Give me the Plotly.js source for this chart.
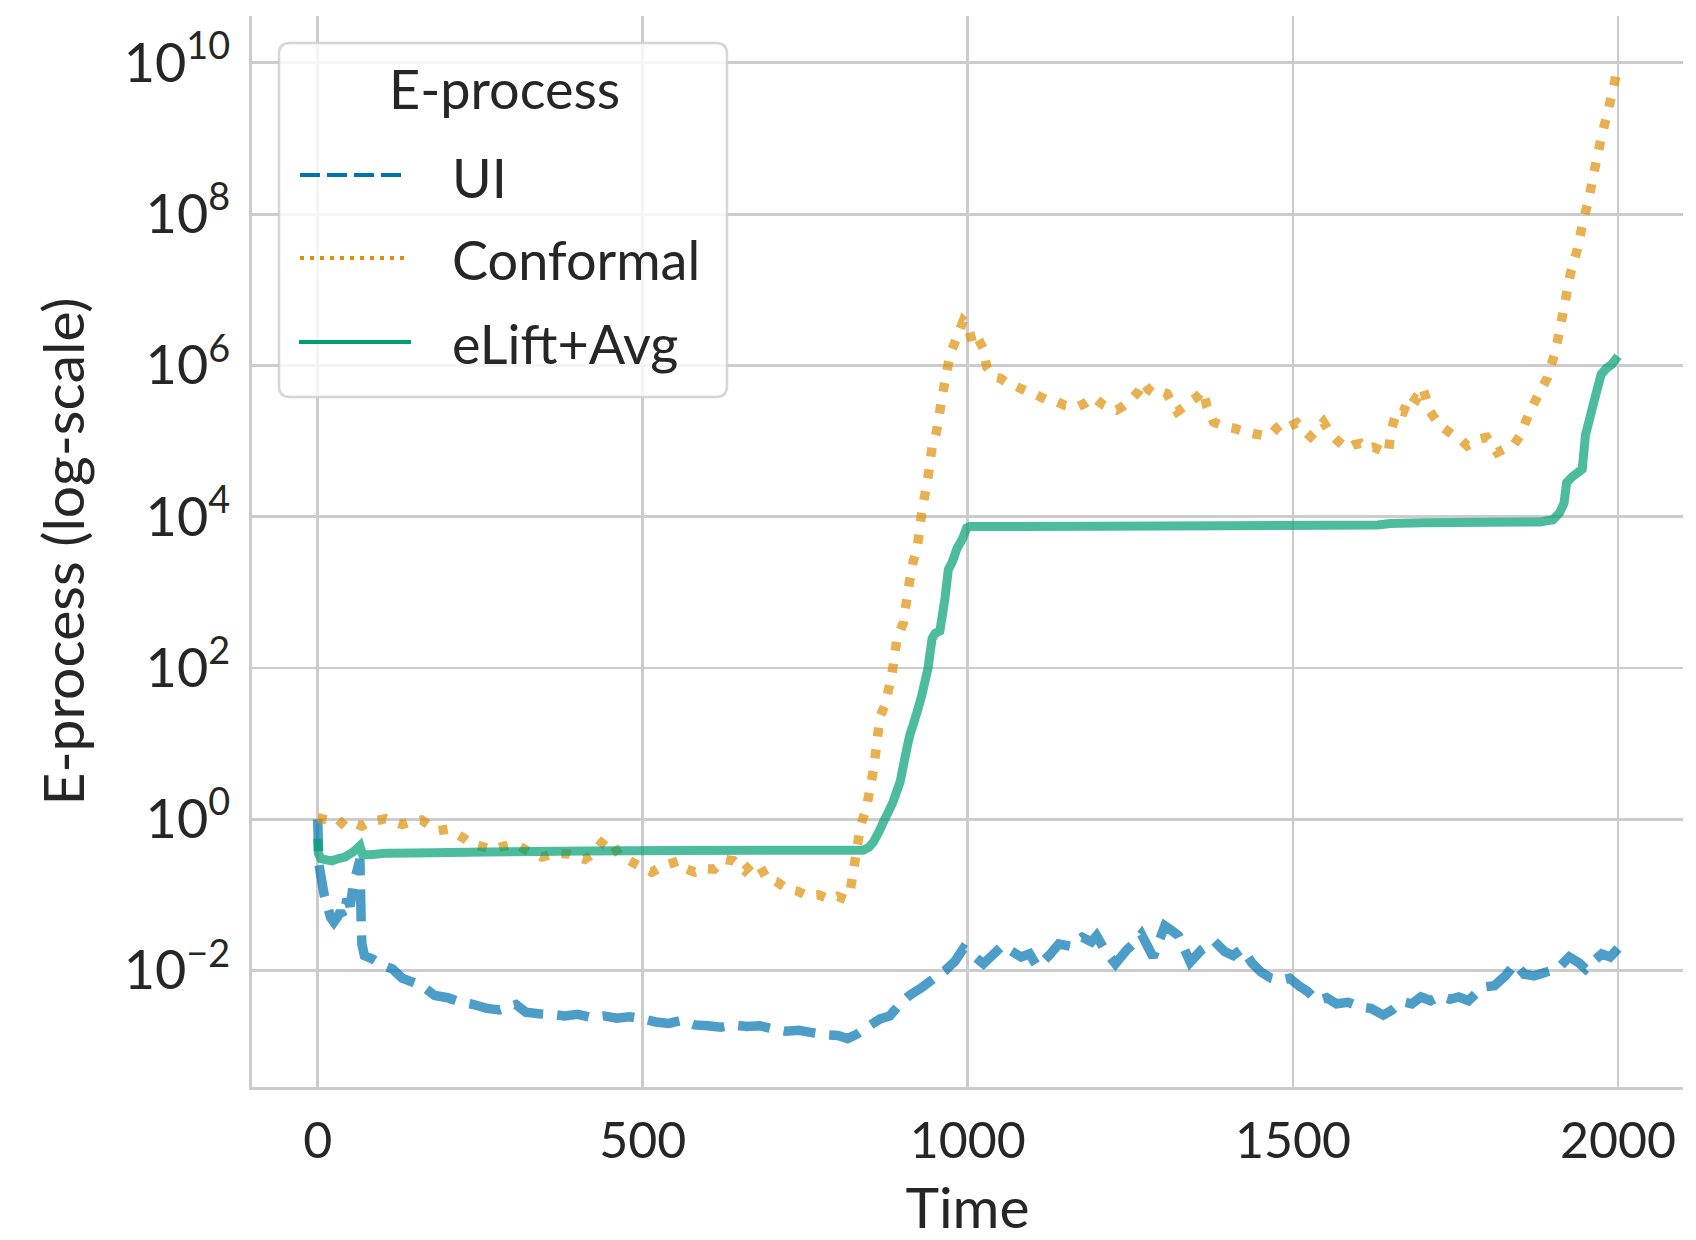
<!DOCTYPE html>
<html>
<head>
<meta charset="utf-8">
<script src="https://cdn.plot.ly/plotly-3.0.1.min.js"></script>
<style>
  html, body { margin: 0; padding: 0; background: #ffffff; }
  #chart { width: 1696px; height: 1240px; }
</style>
</head>
<body>
<div id="chart"></div>
<script>
// ---- Data ----
const uiTime = [0,2,5,10,15,20,25,30,35,40,45,50,55,60,65,67,68,72,85,100,115,130,145,160,180,200,220,240,260,280,305,320,340,360,380,400,420,440,460,480,500,520,540,560,580,600,620,640,660,680,700,720,740,760,780,800,815,830,845,865,880,895,910,930,947,965,980,993,1005,1024,1040,1053,1068,1082,1095,1107,1125,1140,1158,1176,1190,1198,1212,1227,1245,1258,1267,1285,1303,1315,1324,1342,1360,1379,1395,1408,1422,1437,1451,1466,1480,1495,1509,1523,1537,1552,1567,1585,1603,1620,1639,1653,1668,1683,1697,1712,1726,1741,1755,1770,1791,1810,1827,1842,1856,1871,1890,1907,1925,1940,1950,1962,1975,1988,2000];
const uiValue = [1.0,0.251,0.178,0.100,0.0708,0.0501,0.0437,0.0501,0.0603,0.0501,0.0891,0.0708,0.141,0.200,0.295,0.0398,0.0224,0.0158,0.0141,0.0117,0.0105,0.00794,0.00708,0.00631,0.00468,0.00437,0.0038,0.00355,0.00316,0.00302,0.00355,0.00282,0.00269,0.00263,0.00251,0.00263,0.0024,0.00251,0.00234,0.00245,0.00229,0.00209,0.002,0.00219,0.00191,0.00186,0.00178,0.00191,0.00182,0.00186,0.0017,0.00158,0.00162,0.00151,0.00141,0.00138,0.00126,0.00145,0.00178,0.00229,0.00251,0.00355,0.00468,0.00603,0.00776,0.01,0.0132,0.0195,0.0166,0.0123,0.0166,0.0214,0.0178,0.0151,0.0166,0.0112,0.0158,0.0224,0.0209,0.0275,0.024,0.0288,0.0178,0.0123,0.019,0.024,0.0302,0.0151,0.0389,0.0331,0.0288,0.0129,0.019,0.0245,0.0178,0.0158,0.0195,0.0126,0.00955,0.00794,0.00741,0.00794,0.00631,0.00525,0.00398,0.00437,0.00363,0.0038,0.00331,0.00316,0.00257,0.00302,0.00389,0.00363,0.00447,0.00398,0.00457,0.00417,0.00447,0.00398,0.00603,0.00631,0.00851,0.0123,0.00891,0.00851,0.00955,0.0105,0.0151,0.0126,0.0105,0.0132,0.0166,0.0151,0.0195];

const confTime = [0,10,20,30,42,55,68,80,95,104,118,130,145,160,175,186,200,211,225,237,252,268,285,300,309,325,345,365,386,400,411,425,435,442,452,464,480,495,514,530,545,555,568,580,595,610,626,640,657,670,680,691,705,722,738,753,770,788,800,812,819,827,835,844,855,865,873,883,891,901,908,916,922,929,939,945,952,960,968,973,983,993,1000,1008,1016,1024,1029,1040,1050,1062,1075,1090,1106,1120,1137,1150,1168,1180,1193,1208,1218,1229,1240,1250,1262,1270,1278,1286,1296,1306,1314,1322,1332,1342,1352,1362,1368,1378,1393,1409,1424,1439,1452,1465,1476,1486,1496,1506,1516,1527,1537,1547,1558,1568,1583,1594,1604,1614,1624,1635,1647,1650,1660,1670,1680,1690,1700,1711,1726,1746,1758,1768,1778,1788,1798,1814,1826,1839,1850,1862,1875,1891,1904,1911,1919,1927,1937,1947,1955,1963,1974,1984,1992,2000];
const confValue = [1.05,1.0,0.955,1.02,0.813,0.891,0.813,0.933,0.977,1.02,0.912,0.851,0.933,0.977,0.794,0.708,0.741,0.661,0.562,0.468,0.437,0.398,0.437,0.468,0.447,0.372,0.316,0.355,0.347,0.316,0.295,0.355,0.468,0.55,0.501,0.331,0.282,0.24,0.2,0.24,0.263,0.282,0.219,0.2,0.224,0.219,0.295,0.282,0.209,0.269,0.24,0.162,0.151,0.12,0.112,0.0977,0.1,0.0871,0.0955,0.0871,0.112,0.302,0.813,1.41,4.57,22.9,33.1,79.4,245,398,1070,2570,3720,11200,34700,83200,135000,363000,871000,1410000,2340000,3890000,3390000,1860000,2240000,1660000,955000,708000,676000,575000,525000,457000,407000,355000,331000,295000,282000,316000,380000,302000,275000,257000,295000,347000,447000,603000,479000,427000,457000,427000,316000,245000,282000,331000,380000,468000,282000,178000,158000,148000,135000,126000,120000,120000,151000,178000,158000,174000,141000,115000,141000,178000,126000,102000,79400,89100,93300,79400,83200,75900,69200,126000,257000,245000,407000,355000,501000,245000,162000,120000,105000,87100,95500,107000,112000,70800,79400,87100,120000,219000,372000,676000,1550000,3160000,7240000,16600000,33100000,85100000,155000000,355000000,1000000000,2240000000,4170000000,9550000000];

const liftTime = [0,1,5,15,22,32,42,55,65,69,80,104,150,200,300,411,550,700,839,848,855,863,870,878,885,896,906,911,916,922,929,939,945,950,957,965,970,976,983,993,998,1003,1200,1400,1630,1650,1700,1880,1900,1910,1917,1921,1930,1945,1950,1963,1974,1982,1990,2000];
const liftValue = [0.55,0.355,0.302,0.288,0.282,0.302,0.316,0.372,0.447,0.339,0.339,0.355,0.359,0.363,0.372,0.38,0.385,0.389,0.389,0.427,0.501,0.676,0.912,1.26,1.70,3.16,8.51,13.2,17.8,26.3,42.7,102,245,288,309,851,2000,2510,3720,5370,7080,7410,7500,7590,7760,8130,8320,8510,9120,11200,15100,28200,33900,42700,120000,331000,759000,912000,1020000,1320000];

const seriesNames = ["UI", "Conformal", "eLift+Avg"];
const legendTitle = "E-process";
const xTickVals = [0, 500, 1000, 1500, 2000];
const yTickVals = [1e-2, 1e0, 1e2, 1e4, 1e6, 1e8, 1e10];
const yTickText = ["10<sup>\u22122</sup>", "10<sup>0</sup>", "10<sup>2</sup>", "10<sup>4</sup>", "10<sup>6</sup>", "10<sup>8</sup>", "10<sup>10</sup>"];
const xTitle = "Time";
const yTitle = "E-process (log-scale)";

// ---- Styles ----
const FONT = "Lato, 'Open Sans', 'DejaVu Sans', sans-serif";
const TXT = "#262626";
const GRID = "#cccccc";
const colBlue = "#0173b2", colOrange = "#de8f05", colGreen = "#029e73";
function rgba(hex, a) {
  const n = parseInt(hex.slice(1), 16);
  return `rgba(${(n >> 16) & 255},${(n >> 8) & 255},${n & 255},${a})`;
}

const traces = [
  { x: uiTime, y: uiValue, name: seriesNames[0], type: "scatter", mode: "lines",
    line: { color: rgba(colBlue, 0.7), width: 9.5, dash: "32px,14px", simplify: false } },
  { x: confTime, y: confValue, name: seriesNames[1], type: "scatter", mode: "lines",
    line: { color: rgba(colOrange, 0.7), width: 9.5, dash: "9px,13px", simplify: false } },
  { x: liftTime, y: liftValue, name: seriesNames[2], type: "scatter", mode: "lines",
    line: { color: rgba(colGreen, 0.7), width: 9, simplify: false } }
];

// ---- Manual legend (paper coordinates) ----
const L = 252, R = 1683, T = 16, B = 1087;
const px = v => (v - L) / (R - L);
const py = v => (B - v) / (B - T);
function roundRect(x0p, y0p, x1p, y1p, r) {
  const x0 = px(x0p), x1 = px(x1p), yt = py(y0p), yb = py(y1p);
  const rx = r / (R - L), ry = r / (B - T);
  return `M${x0 + rx},${yt} L${x1 - rx},${yt} Q${x1},${yt} ${x1},${yt - ry} ` +
         `L${x1},${yb + ry} Q${x1},${yb} ${x1 - rx},${yb} L${x0 + rx},${yb} ` +
         `Q${x0},${yb} ${x0},${yb + ry} L${x0},${yt - ry} Q${x0},${yt} ${x0 + rx},${yt} Z`;
}
const shapes = [
  { type: "path", xref: "paper", yref: "paper", layer: "above",
    path: roundRect(279, 43, 727, 397, 11),
    fillcolor: "rgba(255,255,255,0.8)", line: { color: "rgba(204,204,204,0.8)", width: 2.5 } },
  { type: "line", xref: "paper", yref: "paper", layer: "above",
    x0: px(300), x1: px(402), y0: py(175), y1: py(175),
    line: { color: colBlue, width: 4, dash: "20px,7px" } },
  { type: "line", xref: "paper", yref: "paper", layer: "above",
    x0: px(300), x1: px(405), y0: py(258), y1: py(258),
    line: { color: colOrange, width: 4, dash: "4px,6px" } },
  { type: "line", xref: "paper", yref: "paper", layer: "above",
    x0: px(299), x1: px(411), y0: py(342), y1: py(342),
    line: { color: colGreen, width: 4 } }
];
const legFont = { family: FONT, size: 54, color: TXT };
const annotations = [
  { text: legendTitle, xref: "paper", yref: "paper", x: px(504), y: py(89), xanchor: "center", yanchor: "middle", showarrow: false, font: legFont },
  { text: seriesNames[0], xref: "paper", yref: "paper", x: px(450), y: py(177), xanchor: "left", yanchor: "middle", showarrow: false, font: legFont },
  { text: seriesNames[1], xref: "paper", yref: "paper", x: px(450), y: py(259), xanchor: "left", yanchor: "middle", showarrow: false, font: legFont },
  { text: seriesNames[2], xref: "paper", yref: "paper", x: px(450), y: py(343), xanchor: "left", yanchor: "middle", showarrow: false, font: legFont }
];

const layout = {
  width: 1696, height: 1240,
  margin: { l: L, r: 1696 - R, t: T, b: 1240 - B, pad: 0 },
  paper_bgcolor: "#ffffff", plot_bgcolor: "#ffffff",
  showlegend: false,
  font: { family: FONT, color: TXT, size: 50 },
  xaxis: {
    range: [-101, 2100], tickvals: xTickVals, ticktext: xTickVals.map(String),
    showgrid: true, gridcolor: GRID, gridwidth: 2.8, zeroline: false,
    showline: true, linecolor: GRID, linewidth: 3,
    ticks: "", ticklabelstandoff: 8,
    tickfont: { family: FONT, size: 50, color: TXT },
    title: { text: xTitle, font: { family: FONT, size: 57, color: TXT }, standoff: 32 }
  },
  yaxis: {
    type: "log", range: [-3.54, 10.62], tickvals: yTickVals, ticktext: yTickText,
    showgrid: true, gridcolor: GRID, gridwidth: 2.8, zeroline: false,
    showline: true, linecolor: GRID, linewidth: 3,
    ticks: "", ticklabelstandoff: 8,
    tickfont: { family: FONT, size: 54, color: TXT },
    title: { text: yTitle, font: { family: FONT, size: 57, color: TXT }, standoff: 21 }
  },
  shapes: shapes,
  annotations: annotations
};

Plotly.newPlot("chart", traces, layout, { displayModeBar: false, staticPlot: true });
</script>
</body>
</html>
